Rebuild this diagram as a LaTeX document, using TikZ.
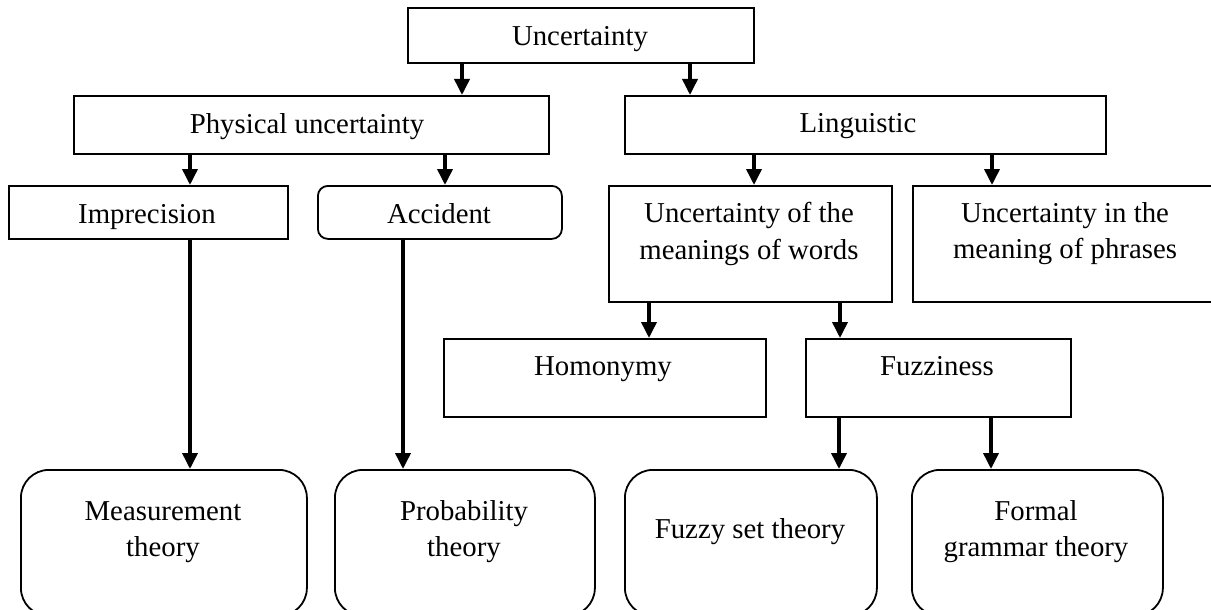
\documentclass[tikz,border=0pt]{standalone}
\usepackage{fontspec}
\setmainfont{Liberation Serif}
\usetikzlibrary{arrows.meta}
\usetikzlibrary{positioning}
\newcommand{\diafont}{\fontsize{28.8}{36.2}\selectfont}

\begin{document}
\begin{tikzpicture}
[
	x = 1pt, y = -1pt,
	box/.style	= {rectangle, draw = black, line width = 1.8pt, inner sep = 0pt, anchor = north west},
	rbox/.style	= {box, rounded corners = 10pt},
	theory/.style	= {box, rounded corners = 28pt},
	txt/.style	= {font = \diafont, align = center, inner sep = 0pt},
	line/.style	= {txt, anchor = base},
	arr/.style	= {-{Triangle[width = 15pt, length = 16pt]}, line width = 3.6pt},
]

	\path [use as bounding box, clip] (0,0) rectangle (1211,610);

	\node (unc) [box, minimum width = 346pt, minimum height = 55pt] at (407,7) {};
	%
	\node (phys) [box, minimum width = 475pt, minimum height = 58pt] at (73,95) {};
	\node (ling) [box, minimum width = 481pt, minimum height = 58pt] at (624,95) {};
	%
	\node (impr) [box, minimum width = 279pt, minimum height = 53pt] at (8,185) {};
	\node (acc) [rbox, minimum width = 244pt, minimum height = 53pt] at (317,185) {};
	\node (words) [box, minimum width = 283pt, minimum height = 116pt] at (608,185) {};
	\node (phrases) [box, minimum width = 306pt, minimum height = 116pt] at (912,185) {};
	%
	\node (homo) [box, minimum width = 322pt, minimum height = 78pt] at (443,338) {};
	\node (fuzz) [box, minimum width = 265pt, minimum height = 78pt] at (805,338) {};
	%
	\node (meas) [theory, minimum width = 286pt, minimum height = 146pt] at (20,469) {};
	\node (prob) [theory, minimum width = 260pt, minimum height = 146pt] at (334,469) {};
	\node (fst) [theory, minimum width = 252pt, minimum height = 146pt] at (624,469) {};
	\node (fgt) [theory, minimum width = 251pt, minimum height = 146pt] at (911,469) {};

	\node (uncT) [line] at (580,46) {Uncertainty};
	\node (physT) [line] at (307,133) {Physical uncertainty};
	\node (lingT) [line] at (858,132) {Linguistic};
	\node (imprT) [line] at (147,223) {Imprecision};
	\node (accT) [line] at (439,223) {Accident};
	\node (wordsT) [txt] at (749,234) {Uncertainty of the\\meanings of words};
	\node (phrasesT) [txt] at (1065,234) {Uncertainty in the\\meaning of phrases};
	\node (homoT) [line] at (603,375) {Homonymy};
	\node (fuzzT) [line] at (937,375) {Fuzziness};
	\node (measT) [txt] at (163,532) {Measurement\\theory};
	\node (probT) [txt] at (464,532) {Probability\\theory};
	\node (fstT) [line] at (750,538) {Fuzzy set theory};
	\node (fgtT) [txt] at (1036,532) {Formal\\grammar theory};

	\draw [arr] ([xshift = 55pt] unc.south west) -- ([xshift = 55pt] unc.south west |- phys.north);
	\draw [arr] ([xshift = 283pt] unc.south west) -- ([xshift = 283pt] unc.south west |- ling.north);
	%
	\draw [arr] ([xshift = 117pt] phys.south west) -- ([xshift = 117pt] phys.south west |- impr.north);
	\draw [arr] ([xshift = 372pt] phys.south west) -- ([xshift = 372pt] phys.south west |- acc.north);
	\draw [arr] ([xshift = 130pt] ling.south west) -- ([xshift = 130pt] ling.south west |- words.north);
	\draw [arr] ([xshift = 368pt] ling.south west) -- ([xshift = 368pt] ling.south west |- phrases.north);
	%
	\draw [arr] ([xshift = 41pt] words.south west) -- ([xshift = 41pt] words.south west |- homo.north);
	\draw [arr] ([xshift = 232pt] words.south west) -- ([xshift = 232pt] words.south west |- fuzz.north);
	%
	\draw [arr] ([xshift = 182pt] impr.south west) -- ([xshift = 182pt] impr.south west |- meas.north);
	\draw [arr] ([xshift = 86pt] acc.south west) -- ([xshift = 86pt] acc.south west |- prob.north);
	\draw [arr] ([xshift = 34pt] fuzz.south west) -- ([xshift = 34pt] fuzz.south west |- fst.north);
	\draw [arr] ([xshift = 186pt] fuzz.south west) -- ([xshift = 186pt] fuzz.south west |- fgt.north);

\end{tikzpicture}
\end{document}
